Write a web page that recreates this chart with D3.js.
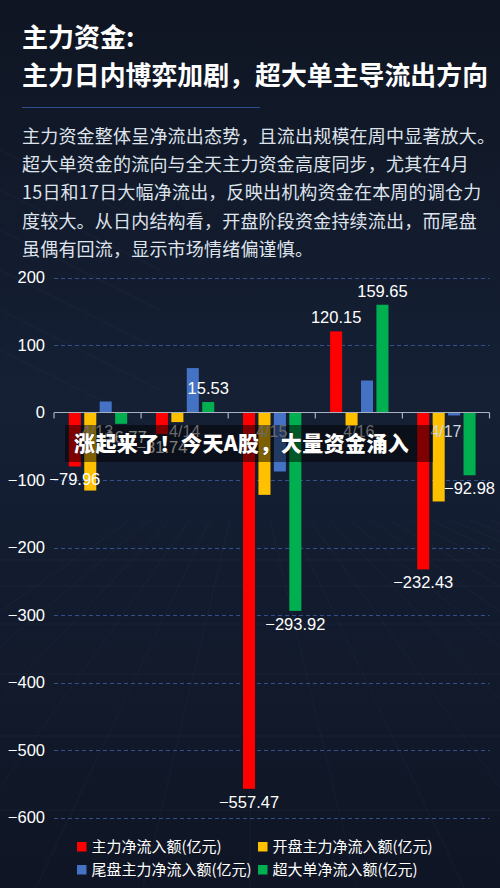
<!DOCTYPE html>
<html><head><meta charset="utf-8">
<script src="https://cdn.jsdelivr.net/npm/d3@7"></script>
<style>
html,body{margin:0;padding:0;background:#111827;}
svg{display:block;}
</style></head>
<body>
<svg id="c" width="500" height="888"></svg>
<script>
// ---- data ----
const categories = ["4/13", "4/14", "4/15", "4/16", "4/17"];
const seriesNames = ["主力净流入额(亿元)", "开盘主力净流入额(亿元)", "尾盘主力净流入额(亿元)", "超大单净流入额(亿元)"];
const mainNet   = [-79.96, -31.74, -557.47, 120.15, -232.43];
const openNet   = [-115.6, -14.2, -122.0, -20.0, -131.8];
const closeNet  = [16.3, 65.8, -87.4, 47.4, -4.4];
const superNet  = [-16.77, 15.53, -293.92, 159.65, -92.98];
const seriesValues = [mainNet, openNet, closeNet, superNet];
const labelledSeries = [0, 3];
const yTicks = [200, 100, 0, -100, -200, -300, -400, -500, -600];
const colors = ["#ff0000", "#ffc000", "#4472c4", "#00b050"];
const title1 = "主力资金:";
const title2 = "主力日内博弈加剧，超大单主导流出方向";
const paragraph = [
  "主力资金整体呈净流出态势，且流出规模在周中显著放大。",
  "超大单资金的流向与全天主力资金高度同步，尤其在4月",
  "15日和17日大幅净流出，反映出机构资金在本周的调仓力",
  "度较大。从日内结构看，开盘阶段资金持续流出，而尾盘",
  "虽偶有回流，显示市场情绪偏谨慎。"
];
const bannerText = "涨起来了！今天A股，大量资金涌入";

const svg = d3.select("#c");
const W = 500, H = 888;
const CJK = "'Noto Sans CJK SC','Noto Sans',sans-serif";
const NUM = "'Liberation Sans',Arial,sans-serif";

// ---- background ----
const defs = svg.append("defs");
const bg = defs.append("linearGradient").attr("id","bg").attr("x1",0).attr("y1",0).attr("x2",0).attr("y2",1);
bg.append("stop").attr("offset","0%").attr("stop-color","#0f1522");
bg.append("stop").attr("offset","45%").attr("stop-color","#152035");
bg.append("stop").attr("offset","100%").attr("stop-color","#0f1524");
svg.append("rect").attr("width",W).attr("height",H).attr("fill","url(#bg)");
// faint perspective grid decoration
const deco = svg.append("g").attr("stroke","#6f86b0").attr("stroke-opacity",0.07).attr("stroke-width",1);
d3.range(-6, 14).forEach(i => {
  deco.append("line").attr("x1", 250 + i*20).attr("y1", 520).attr("x2", 250 + i*110).attr("y2", 900);
});
d3.range(0, 8).forEach(i => {
  const y = 560 + i*i*6 + i*20;
  deco.append("line").attr("x1", 0).attr("y1", y).attr("x2", W).attr("y2", y);
});
d3.range(0, 6).forEach(i => {
  deco.append("line").attr("x1", 0).attr("y1", 150 + i*40).attr("x2", 160).attr("y2", 230 + i*40);
});

// ---- titles ----
svg.append("text").attr("x",22).attr("y",47).attr("fill","#ffffff")
  .attr("font-family",CJK).attr("font-weight",700).attr("font-size",26).text(title1);
svg.append("text").attr("x",22).attr("y",85).attr("fill","#ffffff")
  .attr("font-family",CJK).attr("font-weight",700).attr("font-size",25.9).text(title2);
svg.append("line").attr("x1",22).attr("x2",260).attr("y1",107.5).attr("y2",107.5)
  .attr("stroke","#2f4e8f").attr("stroke-width",1);
svg.append("g").selectAll("text").data(paragraph).join("text")
  .attr("x",22).attr("y",(d,i)=>143 + i*28.2)
  .attr("fill","#dfe3ec").attr("font-family",CJK).attr("font-size",18)
  .attr("letter-spacing",0.2).text(d=>d);

// ---- chart ----
const plot = {left:54, right:489.5, top:277, bottom:818};
const y = d3.scaleLinear().domain([200,-600]).range([277.5, 817.5]);
const x0 = d3.scaleBand().domain(categories).range([plot.left, plot.right]).paddingInner(0).paddingOuter(0);
const bw = x0.bandwidth();
const x1 = d3.scaleBand().domain(d3.range(seriesNames.length)).range([bw*0.17, bw*0.84]).paddingInner(0.22).paddingOuter(0);

// gridlines
svg.append("g").selectAll("line").data(yTicks.filter(t=>t!==0)).join("line")
  .attr("x1",plot.left).attr("x2",plot.right)
  .attr("y1",d=>Math.round(y(d))+0.5).attr("y2",d=>Math.round(y(d))+0.5)
  .attr("stroke","#34508a").attr("stroke-width",1).attr("stroke-dasharray","4,3");

// y axis labels
const yAxis = d3.axisLeft(y).tickValues(yTicks).tickSize(0).tickPadding(9)
  .tickFormat(d3.format("d"));
const yg = svg.append("g").attr("transform",`translate(${plot.left},0)`).call(yAxis);
yg.select(".domain").remove();
yg.selectAll("text").attr("fill","#ffffff").attr("font-family",NUM).attr("font-size",16.5);

// bars
const flat = [];
categories.forEach((c,ci)=>seriesValues.forEach((arr,si)=>flat.push({c,si,v:arr[ci]})));
svg.append("g").selectAll("rect").data(flat).join("rect")
  .attr("x",d=>x0(d.c)+x1(d.si)).attr("width",x1.bandwidth())
  .attr("y",d=>Math.min(y(0),y(d.v))).attr("height",d=>Math.abs(y(d.v)-y(0)))
  .attr("fill",d=>colors[d.si]);

// zero axis
const xAxis = d3.axisBottom(x0).tickSize(0).tickFormat("");
const xg = svg.append("g").attr("transform",`translate(0,${y(0)})`).call(xAxis);
xg.select(".domain").attr("stroke","#a9b0bf").attr("stroke-width",1.2).attr("d",`M${plot.left},0H${plot.right}`);
const bounds = categories.map(c=>x0(c)).concat([plot.right]);
xg.selectAll(".tk").data(bounds).join("line").attr("class","tk")
  .attr("x1",d=>d).attr("x2",d=>d).attr("y1",0).attr("y2",6)
  .attr("stroke","#a9b0bf").attr("stroke-width",1.2);

// category labels
svg.append("g").selectAll("text").data(categories).join("text")
  .attr("x",d=>x0(d)+bw/2).attr("y",437).attr("text-anchor","middle")
  .attr("fill","#d0d4dc").attr("font-family",NUM).attr("font-size",16).text(d=>d);

// data labels
const fmt = d3.format(".2f");
svg.append("g").selectAll("text").data(flat.filter(d=>labelledSeries.includes(d.si))).join("text")
  .attr("x",d=>x0(d.c)+x1(d.si)+x1.bandwidth()/2)
  .attr("y",d=>d.v>=0 ? y(d.v)-8 : y(d.v)+19)
  .attr("text-anchor","middle").attr("fill","#ffffff")
  .attr("font-family",NUM).attr("font-size",16.5).text(d=>fmt(d.v));

// legend
const legend = svg.append("g").selectAll("g").data(seriesNames).join("g")
  .attr("transform",(d,i)=>`translate(${i%2===0?77:258},${i<2?842:865})`);
legend.append("rect").attr("width",9.5).attr("height",9.5).attr("fill",(d,i)=>colors[i]);
legend.append("text").attr("x",14.5).attr("y",9.5).attr("fill","#ffffff")
  .attr("font-family",CJK).attr("font-size",15).text(d=>d);

// ---- overlay banner ----
svg.append("rect").attr("x",65).attr("y",425).attr("width",368).attr("height",37)
  .attr("fill","#000000").attr("fill-opacity",0.5);
svg.append("text").attr("x",74).attr("y",451).attr("fill","#ffffff")
  .attr("font-family",CJK).attr("font-weight",900).attr("font-size",21)
  .attr("letter-spacing",0.4)
  .attr("stroke","#1a1a1a").attr("stroke-width",0.6).attr("paint-order","stroke")
  .text(bannerText);
</script>
</body></html>
